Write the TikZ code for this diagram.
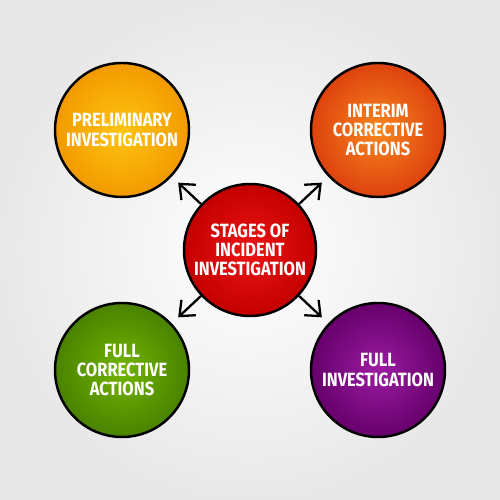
\documentclass[tikz,border=0pt]{standalone}
\usepackage{fontspec}
\newfontfamily\handfont{Fira Sans}[FakeStretch=0.86]
\usepackage{tikz}
\usetikzlibrary{arrows.meta,positioning}

\definecolor{prelimin}{HTML}{FFC410}
\definecolor{prelimout}{HTML}{F29A00}
\definecolor{interimin}{HTML}{F8861E}
\definecolor{interimout}{HTML}{DD420E}
\definecolor{stagein}{HTML}{EC1414}
\definecolor{stageout}{HTML}{C40000}
\definecolor{fullcain}{HTML}{72B400}
\definecolor{fullcaout}{HTML}{4A8200}
\definecolor{fullinvin}{HTML}{9C1CA2}
\definecolor{fullinvout}{HTML}{66006C}

\begin{document}
\begin{tikzpicture}[
  stagecirc/.style={circle,draw=black,line width=1.4pt,minimum size=2.68cm,
                    inner sep=0pt,align=center,text=white,
                    font=\handfont\bfseries\fontsize{10.9}{10.9}\selectfont},
  prelimcirc/.style={stagecirc,inner color=prelimin,outer color=prelimout},
  interimcirc/.style={stagecirc,inner color=interimin,outer color=interimout},
  maincirc/.style={stagecirc,minimum size=2.64cm,inner color=stagein,outer color=stageout},
  fullcacirc/.style={stagecirc,inner color=fullcain,outer color=fullcaout},
  fullinvcirc/.style={stagecirc,inner color=fullinvin,outer color=fullinvout},
  arr/.style={-{Straight Barb[length=2.5mm,width=4.2mm]},line width=1.3pt,
              draw=black,shorten >=5pt}
]
% background
\fill[inner color=white,outer color=black!9] (0,0) rectangle (10,10);
\useasboundingbox (0,0) rectangle (10,10);

\node[maincirc] (stages) at (5,5) {STAGES OF\\INCIDENT\\INVESTIGATION};
\node[prelimcirc] (prelim) at (2.44,7.4) {PRELIMINARY\\INVESTIGATION};
\node[interimcirc] (interim) at (7.56,7.4) {INTERIM\\CORRECTIVE\\ACTIONS};
\node[fullcacirc] (fullca) at (2.44,2.6) {FULL\\CORRECTIVE\\ACTIONS};
\node[fullinvcirc] (fullinv) at (7.56,2.6) {FULL\\INVESTIGATION};

\draw[arr] (stages)--(prelim);
\draw[arr] (stages)--(interim);
\draw[arr] (stages)--(fullca);
\draw[arr] (stages)--(fullinv);
\end{tikzpicture}
\end{document}
